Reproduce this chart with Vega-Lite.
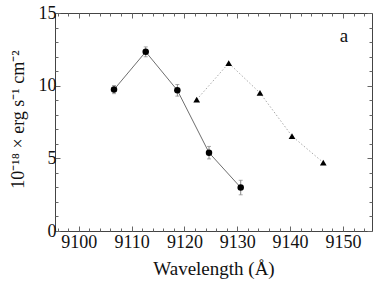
{
  "$schema": "https://vega.github.io/schema/vega-lite/v6.json",
  "width": 317,
  "height": 218,
  "autosize": {"type": "none"},
  "padding": {"left": 55, "top": 13, "right": 2, "bottom": 54},
  "config": {
    "view": {"stroke": "#444", "strokeWidth": 1},
    "font": "Liberation Serif",
    "axis": {
      "domain": false,
      "grid": false,
      "tickColor": "#666",
      "labelColor": "#111",
      "titleColor": "#111",
      "labelFont": "Liberation Serif",
      "titleFont": "Liberation Serif",
      "titleFontWeight": "normal",
      "labelFontSize": 18,
      "titleFontSize": 19
    }
  },
  "datasets": {
    "circ": [
      {"wl": 9106.67, "flux": 9.73, "lo": 9.45, "hi": 10.01},
      {"wl": 9112.67, "flux": 12.33, "lo": 11.99, "hi": 12.67},
      {"wl": 9118.66, "flux": 9.68, "lo": 9.28, "hi": 10.08},
      {"wl": 9124.65, "flux": 5.39, "lo": 4.96, "hi": 5.82},
      {"wl": 9130.65, "flux": 2.99, "lo": 2.49, "hi": 3.49}
    ],
    "tri": [
      {"wl": 9122.32, "flux": 9.04},
      {"wl": 9128.38, "flux": 11.55},
      {"wl": 9134.3, "flux": 9.5},
      {"wl": 9140.36, "flux": 6.53},
      {"wl": 9146.28, "flux": 4.71}
    ]
  },
  "resolve": {"axis": {"x": "independent", "y": "independent"}},
  "layer": [
    {
      "data": {"name": "circ"},
      "mark": {"type": "line", "color": "#6e6e6e", "strokeWidth": 1},
      "encoding": {
        "x": {"field": "wl", "type": "quantitative", "scale": {"domain": [9095.5, 9155.5], "nice": false, "zero": false},
          "axis": {"orient": "bottom", "values": [9100, 9110, 9120, 9130, 9140, 9150], "tickSize": -5, "labelPadding": 7, "format": "d", "title": "Wavelength (Å)", "titlePadding": 8}},
        "y": {"field": "flux", "type": "quantitative", "scale": {"domain": [0, 15], "nice": false},
          "axis": {"orient": "left", "values": [0, 5, 10, 15], "tickSize": -5, "labelPadding": 4, "title": "10⁻¹⁸ × erg s⁻¹ cm⁻²", "titleFontSize": 18, "titleY": 106, "titlePadding": 11}}
      }
    },
    {
      "data": {"name": "tri"},
      "mark": {"type": "line", "color": "#aaaaaa", "strokeWidth": 1, "strokeDash": [1.5, 2]},
      "encoding": {
        "x": {"field": "wl", "type": "quantitative", "scale": {"domain": [9095.5, 9155.5], "nice": false, "zero": false},
          "axis": {"orient": "top", "values": [9100, 9110, 9120, 9130, 9140, 9150], "tickSize": -5, "labels": false, "title": null}},
        "y": {"field": "flux", "type": "quantitative", "scale": {"domain": [0, 15], "nice": false},
          "axis": {"orient": "right", "values": [0, 5, 10, 15], "tickSize": -5, "labels": false, "title": null}}
      }
    },
    {
      "data": {"name": "circ"},
      "mark": {"type": "rule", "color": "#888888", "strokeWidth": 1},
      "encoding": {
        "x": {"field": "wl", "type": "quantitative", "scale": {"domain": [9095.5, 9155.5], "nice": false, "zero": false},
          "axis": {"orient": "bottom", "values": [9096, 9098, 9102, 9104, 9106, 9108, 9112, 9114, 9116, 9118, 9122, 9124, 9126, 9128, 9132, 9134, 9136, 9138, 9142, 9144, 9146, 9148, 9152, 9154], "tickSize": -3, "labels": false, "title": null}},
        "y": {"field": "lo", "type": "quantitative", "scale": {"domain": [0, 15], "nice": false},
          "axis": {"orient": "left", "values": [1, 2, 3, 4, 6, 7, 8, 9, 11, 12, 13, 14], "tickSize": -3, "labels": false, "title": null}},
        "y2": {"field": "hi"}
      }
    },
    {
      "data": {"name": "tri"},
      "mark": {"type": "point", "shape": "triangle-up", "filled": true, "color": "#000000", "opacity": 1, "size": 45},
      "encoding": {
        "x": {"field": "wl", "type": "quantitative", "scale": {"domain": [9095.5, 9155.5], "nice": false, "zero": false},
          "axis": {"orient": "top", "values": [9096, 9098, 9102, 9104, 9106, 9108, 9112, 9114, 9116, 9118, 9122, 9124, 9126, 9128, 9132, 9134, 9136, 9138, 9142, 9144, 9146, 9148, 9152, 9154], "tickSize": -3, "labels": false, "title": null}},
        "y": {"field": "flux", "type": "quantitative", "scale": {"domain": [0, 15], "nice": false},
          "axis": {"orient": "right", "values": [1, 2, 3, 4, 6, 7, 8, 9, 11, 12, 13, 14], "tickSize": -3, "labels": false, "title": null}}
      }
    },
    {
      "data": {"name": "circ"},
      "mark": {"type": "tick", "orient": "horizontal", "color": "#888888", "size": 4, "thickness": 1},
      "encoding": {
        "x": {"field": "wl", "type": "quantitative", "axis": null},
        "y": {"field": "lo", "type": "quantitative", "axis": null}
      }
    },
    {
      "data": {"name": "circ"},
      "mark": {"type": "tick", "orient": "horizontal", "color": "#888888", "size": 4, "thickness": 1},
      "encoding": {
        "x": {"field": "wl", "type": "quantitative", "axis": null},
        "y": {"field": "hi", "type": "quantitative", "axis": null}
      }
    },
    {
      "data": {"name": "circ"},
      "mark": {"type": "point", "shape": "circle", "filled": true, "color": "#000000", "opacity": 1, "size": 42},
      "encoding": {
        "x": {"field": "wl", "type": "quantitative", "axis": null},
        "y": {"field": "flux", "type": "quantitative", "axis": null}
      }
    },
    {
      "data": {"values": [{"label": "a"}]},
      "mark": {"type": "text", "font": "Liberation Serif", "fontSize": 19, "color": "#111", "align": "center", "baseline": "middle"},
      "encoding": {
        "x": {"datum": 9150.2, "type": "quantitative", "axis": null},
        "y": {"datum": 13.45, "type": "quantitative", "axis": null},
        "text": {"field": "label"}
      }
    }
  ]
}
